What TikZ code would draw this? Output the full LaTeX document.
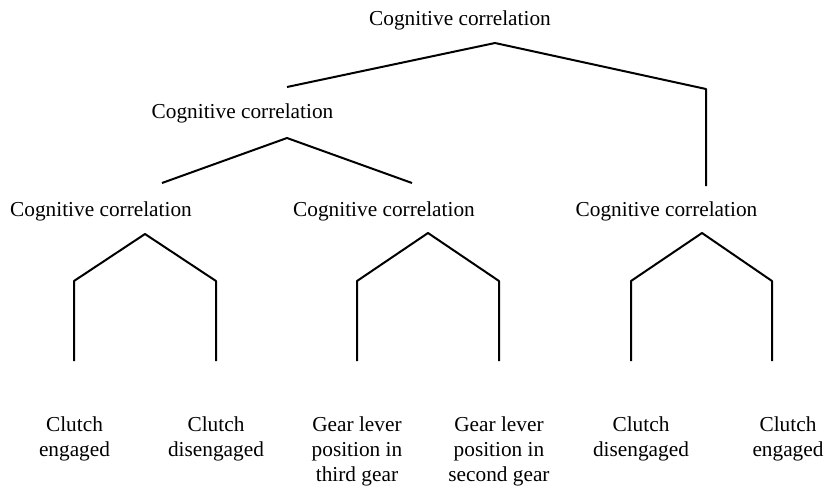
\documentclass[tikz,border=0pt]{standalone}
\usepackage{fontspec}
\setmainfont{Liberation Serif}
\begin{document}
\begin{tikzpicture}[x=1pt,y=-1pt,
  lbl/.style={font=\fontsize{21.3}{25}\selectfont, inner sep=0pt, anchor=base},
  leaf/.style={font=\fontsize{21.3}{25}\selectfont, inner sep=0pt, anchor=north, align=center},
  link/.style={line width=2pt, line join=round}]
\useasboundingbox (0,0) rectangle (827,488);

% internal nodes
\node[lbl] (root) at (460,25)    {Cognitive correlation};
\node[lbl] (mid)  at (242.5,118) {Cognitive correlation};
\node[lbl] (ga)   at (101,216)   {Cognitive correlation};
\node[lbl] (gb)   at (384,216)   {Cognitive correlation};
\node[lbl] (gc)   at (666.5,216) {Cognitive correlation};

% leaves
\node[leaf] (a1) at (74.5,417) {Clutch\\engaged};
\node[leaf] (a2) at (216,417)  {Clutch\\disengaged};
\node[leaf] (b1) at (357,417)  {Gear lever\\position in\\third gear};
\node[leaf] (b2) at (499,417)  {Gear lever\\position in\\second gear};
\node[leaf] (c1) at (641,417)  {Clutch\\disengaged};
\node[leaf] (c2) at (788,417)  {Clutch\\engaged};

% branch points
\coordinate (root-top)  at (495,43);
\coordinate (root-l)    at (287,87);
\coordinate (root-r)    at (706,89);
\coordinate (root-rb)   at (706,186);

\coordinate (mid-top)   at (287,138);
\coordinate (mid-l)     at (162,183);
\coordinate (mid-r)     at (412,183);

\coordinate (ga-top) at (145,234);
\coordinate (ga-l)   at (74,281);
\coordinate (ga-r)   at (216,281);
\coordinate (ga-lb)  at (74,361);
\coordinate (ga-rb)  at (216,361);

\coordinate (gb-top) at (428,233);
\coordinate (gb-l)   at (357,281);
\coordinate (gb-r)   at (499,281);
\coordinate (gb-lb)  at (357,361);
\coordinate (gb-rb)  at (499,361);

\coordinate (gc-top) at (702,233);
\coordinate (gc-l)   at (631,281);
\coordinate (gc-r)   at (772,281);
\coordinate (gc-lb)  at (631,361);
\coordinate (gc-rb)  at (772,361);

% branches
\draw[link] (root-l) -- (root-top) -- (root-r) -- (root-rb);
\draw[link] (mid-l) -- (mid-top) -- (mid-r);
\draw[link] (ga-lb) -- (ga-l) -- (ga-top) -- (ga-r) -- (ga-rb);
\draw[link] (gb-lb) -- (gb-l) -- (gb-top) -- (gb-r) -- (gb-rb);
\draw[link] (gc-lb) -- (gc-l) -- (gc-top) -- (gc-r) -- (gc-rb);
\end{tikzpicture}
\end{document}
